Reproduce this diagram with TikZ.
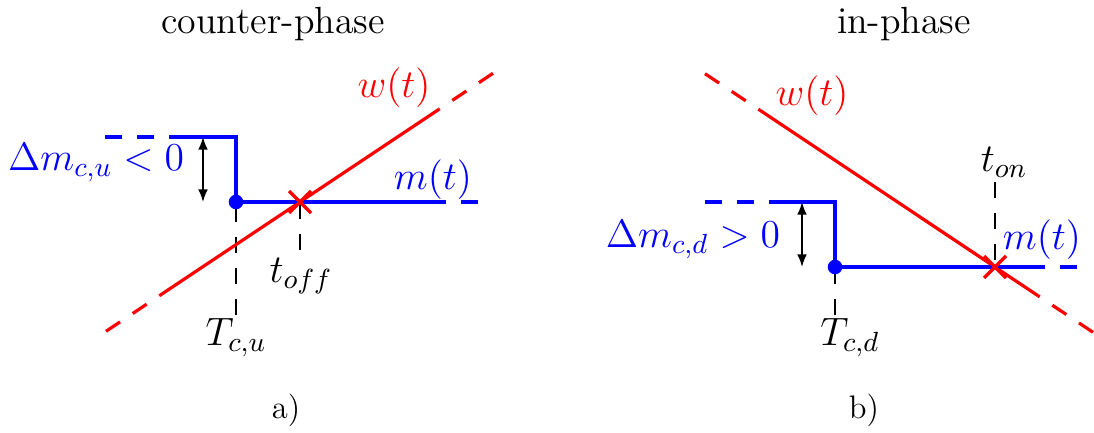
\RequirePackage{fix-cm}
\documentclass[tikz,border=0pt]{standalone}
\usepackage{amsmath,amssymb}
\usepackage{tikz}
\usetikzlibrary{arrows.meta,positioning,calc}

\begin{document}
\begin{tikzpicture}[
  x=0.3436pt, y=-0.3436pt,
  mline/.style={draw=blue, line width=1.15pt},
  wline/.style={draw=red, line width=1.1pt},
  endcut/.style={dash pattern=on 5.8pt off 5.2pt},
  guide/.style={draw=black, line width=0.5pt, dash pattern=on 5.5pt off 5.2pt},
  span/.style={{Latex[length=4.3pt,width=3.3pt]}-{Latex[length=4.3pt,width=3.3pt]}, line width=0.55pt},
  lbl/.style={font=\fontsize{13.6}{16}\selectfont, inner sep=0pt},
  title/.style={font=\fontsize{13}{15}\selectfont, inner sep=0pt},
  tag/.style={font=\fontsize{11.2}{13}\selectfont, inner sep=0pt}
]
\useasboundingbox (0,0) rectangle (1094,433);

% ---- a) counter-phase ----
\coordinate (ua) at (105,137);
\coordinate (ub) at (171,137);
\coordinate (uc) at (236,137);
\coordinate (tcu) at (236,202);
\coordinate (off) at (300,202);
\coordinate (md) at (445,202);
\coordinate (me) at (478,202);
\coordinate (wa) at (106,331.3);
\coordinate (wb) at (160,295.3);
\coordinate (wc) at (439,109.3);
\coordinate (wd) at (493,73.3);
\coordinate (tcuend) at (236,315);
\coordinate (offend) at (300,250);
\coordinate (sa) at (203,137);
\coordinate (sb) at (203,202);

\draw[guide] (tcuend) -- (tcu);
\draw[guide] (offend) -- (off);
\draw[wline, endcut] (wa) -- (wb);
\draw[wline] (wb) -- (wc);
\draw[wline, endcut] (wd) -- (wc);
\draw[mline, endcut] (ua) -- (ub);
\draw[mline] (ub) -- (uc) -- (tcu) -- (md);
\draw[mline, endcut] (me) -- (md);
\fill[blue] (tcu) circle (2.5pt);
\draw[red, line width=1.2pt] ($(off)+(-11,-11)$) -- ($(off)+(11,11)$)
  ($(off)+(-11,11)$) -- ($(off)+(11,-11)$);
\draw[span] (sa) -- (sb);

\node[title] (ttla) at (273,24) {counter-phase};
\node[lbl, text=blue] (dmu) at (96,163) {$\Delta m_{c,u} < 0$};
\node[lbl, text=blue] (mta) at (433,180) {$m(t)$};
\node[lbl, text=red] (wta) at (394,88) {$w(t)$};
\node[lbl] (toff) at (301,276) {$t_{off}$};
\node[lbl] (Tcu) at (236,338) {$T_{c,u}$};
\node[tag] (capa) at (286,410) {a)};

% ---- b) in-phase ----
\coordinate (va) at (705,202);
\coordinate (vb) at (770,202);
\coordinate (vc) at (835,202);
\coordinate (tcd) at (835,267);
\coordinate (on) at (995,267);
\coordinate (nd) at (1043,267);
\coordinate (ne) at (1077,267);
\coordinate (za) at (705,73.7);
\coordinate (zb) at (760,110.3);
\coordinate (zc) at (1038,295.7);
\coordinate (zd) at (1093,332.3);
\coordinate (tcdend) at (835,315);
\coordinate (onend) at (995,182);
\coordinate (ra) at (802,202);
\coordinate (rb) at (802,267);

\draw[guide] (tcdend) -- (tcd);
\draw[guide] (onend) -- (on);
\draw[wline, endcut] (za) -- (zb);
\draw[wline] (zb) -- (zc);
\draw[wline, endcut] (zd) -- (zc);
\draw[mline, endcut] (va) -- (vb);
\draw[mline] (vb) -- (vc) -- (tcd) -- (nd);
\draw[mline, endcut] (ne) -- (nd);
\fill[blue] (tcd) circle (2.5pt);
\draw[red, line width=1.2pt] ($(on)+(-11,-11)$) -- ($(on)+(11,11)$)
  ($(on)+(-11,11)$) -- ($(on)+(11,-11)$);
\draw[span] (ra) -- (rb);

\node[title] (ttlb) at (904,24) {in-phase};
\node[lbl, text=blue] (dmd) at (693,240) {$\Delta m_{c,d} > 0$};
\node[lbl, text=blue] (mtb) at (1042,240) {$m(t)$};
\node[lbl, text=red] (wtb) at (812,96) {$w(t)$};
\node[lbl] (ton) at (1004,162) {$t_{on}$};
\node[lbl] (Tcd) at (850,338) {$T_{c,d}$};
\node[tag] (capb) at (864,410) {b)};
\end{tikzpicture}
\end{document}
